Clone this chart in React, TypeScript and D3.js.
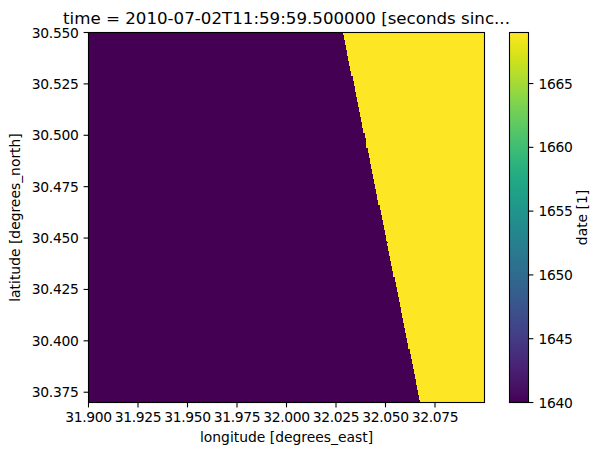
import React from "react";
import * as d3 from "d3";

const xTicks = [31.9, 31.925, 31.95, 31.975, 32.0, 32.025, 32.05, 32.075];
const yTicks = [30.375, 30.4, 30.425, 30.45, 30.475, 30.5, 30.525, 30.55];
const cbTicks = [1640, 1645, 1650, 1655, 1660, 1665];
const lonDomain = [31.9, 32.1];
const latDomain = [30.37, 30.55];
const dateDomain = [1640, 1669];
const rowStep = 0.0025;
const rowLon = [
  32.0285, 32.029, 32.0296, 32.0301, 32.0307, 32.0312, 32.0318, 32.0323, 32.0328, 32.0334,
  32.0339, 32.0345, 32.035, 32.0356, 32.0361, 32.0366, 32.0372, 32.0377, 32.0383, 32.0388,
  32.0394, 32.0399, 32.0404, 32.041, 32.0415, 32.0421, 32.0426, 32.0432, 32.0437, 32.0442,
  32.0448, 32.0453, 32.0459, 32.0464, 32.047, 32.0475, 32.048, 32.0486, 32.0491, 32.0497,
  32.0502, 32.0508, 32.0513, 32.0518, 32.0524, 32.0529, 32.0535, 32.054, 32.0546, 32.0551,
  32.0556, 32.0562, 32.0567, 32.0573, 32.0578, 32.0584, 32.0589, 32.0594, 32.06, 32.0605,
  32.0611, 32.0616, 32.0622, 32.0627, 32.0632, 32.0638, 32.0643, 32.0649, 32.0654, 32.066,
  32.0665, 32.067, 32.0676,
];
const notchLat = [30.5427, 30.5087, 30.4857, 30.4482];
const notchLon = [32.0302, 32.0378, 32.0428, 32.0514];

const LOW = "#440154";
const HIGH = "#fde725";
const FONT = "'DejaVu Sans', sans-serif";
const W = 602, H = 455;
const L = 88.5, R = 484.5, T = 32.5, B = 402.5;
const CL = 509.5, CR = 528.5;
const TICK_LS = -0.3;

export default function App() {
  const x = d3.scaleLinear().domain(lonDomain).range([L, R]);
  const y = d3.scaleLinear().domain(latDomain).range([B, T]);
  const c = d3.scaleLinear().domain(dateDomain).range([B, T]);
  const stops = d3.range(0, 1.0001, 0.02);
  return (
    <svg width={W} height={H} style={{ position: "absolute", left: 0, top: 0, background: "#fff" }} fontFamily={FONT}>
      <defs>
        <linearGradient id="vir" x1="0" y1="1" x2="0" y2="0">
          {stops.map((s) => <stop key={s} offset={s} stopColor={d3.interpolateViridis(s)} />)}
        </linearGradient>
      </defs>
      <rect x={L} y={T} width={R - L} height={B - T} fill={HIGH} />
      <g shapeRendering="crispEdges" fill={LOW}>
        {rowLon.map((lon, i) => {
          const lat = latDomain[1] - i * rowStep;
          const y0 = Math.max(y(lat + rowStep / 2), T);
          const y1 = Math.min(y(lat - rowStep / 2), B);
          return y1 > y0 ? <rect key={i} x={L} y={y0} width={x(lon) - L} height={y1 - y0 + 0.5} /> : null;
        })}
        {notchLat.map((lat, i) => (
          <rect key={i} x={L} y={y(lat)} width={x(notchLon[i]) - L} height={1.2} />
        ))}
      </g>
      <rect x={L} y={T} width={R - L} height={B - T} fill="none" stroke="#000" strokeWidth={1.1} />
      <g fontSize={13.89} fill="#000">
        {xTicks.map((t) => (
          <g key={t}>
            <line x1={x(t)} x2={x(t)} y1={B} y2={B + 4.9} stroke="#000" strokeWidth={1.1} />
            <text x={x(t)} y={422} textAnchor="middle" letterSpacing={TICK_LS}>{d3.format(".3f")(t)}</text>
          </g>
        ))}
        {yTicks.map((t) => (
          <g key={t}>
            <line x1={L - 4.9} x2={L} y1={y(t)} y2={y(t)} stroke="#000" strokeWidth={1.1} />
            <text x={L - 10} y={y(t) + 5} textAnchor="end" letterSpacing={TICK_LS}>{d3.format(".3f")(t)}</text>
          </g>
        ))}
        <text x={(L + R) / 2} y={442} textAnchor="middle">longitude [degrees_east]</text>
        <text transform={`translate(20,${(T + B) / 2}) rotate(-90)`} textAnchor="middle">latitude [degrees_north]</text>
      </g>
      <text x={(L + R) / 2} y={24} textAnchor="middle" fontSize={16.67} fill="#000">
        time = 2010-07-02T11:59:59.500000 [seconds sinc...
      </text>
      <rect x={CL} y={T} width={CR - CL} height={B - T} fill="url(#vir)" stroke="#000" strokeWidth={1.1} />
      <g fontSize={13.89} fill="#000">
        {cbTicks.map((t) => (
          <g key={t}>
            <line x1={CR} x2={CR + 4.9} y1={c(t)} y2={c(t)} stroke="#000" strokeWidth={1.1} />
            <text x={CR + 10} y={c(t) + 5} letterSpacing={TICK_LS}>{t}</text>
          </g>
        ))}
        <text transform={`translate(587,${(T + B) / 2}) rotate(-90)`} textAnchor="middle">date [1]</text>
      </g>
    </svg>
  );
}
